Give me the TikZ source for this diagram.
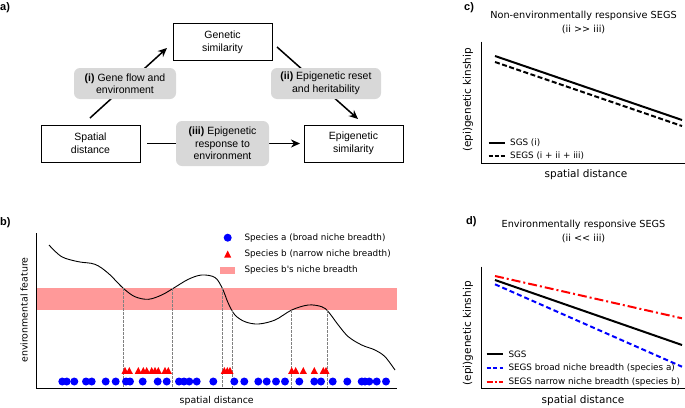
\documentclass[tikz,border=0pt]{standalone}
\usepackage{fontspec}
\setmainfont{Liberation Sans}
\newfontfamily\dvs{DejaVu Sans}
\newfontfamily\lib{Liberation Sans}
\usetikzlibrary{arrows.meta}
\definecolor{boxgray}{RGB}{216,216,216}
\definecolor{bandred}{RGB}{255,153,153}
\definecolor{mblue}{RGB}{0,0,255}
\definecolor{mred}{RGB}{255,0,0}
\begin{document}
\begin{tikzpicture}[x=1pt,y=-1pt,
  plainbox/.style={draw=black,line width=0.8pt,fill=white,minimum width=99pt,minimum height=37pt,inner sep=0pt,align=center,font=\lib\fontsize{10.5}{13.3}\selectfont},
  graybox/.style={fill=boxgray,rounded corners=6pt,inner sep=0pt,align=center,font=\lib\fontsize{10.5}{12.5}\selectfont},
  bigarrow/.style={line width=1.5pt,-{Stealth[length=9pt,width=8pt]}},
  panellabel/.style={font=\lib\bfseries\fontsize{11}{13}\selectfont,inner sep=0pt},
  legtext/.style={font=\dvs\fontsize{8.8}{10}\selectfont,anchor=west,inner sep=0pt},
  axlabel/.style={font=\dvs\fontsize{10.5}{12}\selectfont,inner sep=0pt},
  axlabelb/.style={font=\dvs\fontsize{9.4}{11}\selectfont,inner sep=0pt},
  titletext/.style={font=\dvs\fontsize{9.7}{14}\selectfont,inner sep=0pt,align=center},
  axisline/.style={line width=1.1pt},
  dropline/.style={gray,line width=0.5pt,dash pattern=on 2.5pt off 1.5pt},
  bdot/.style={fill=mblue},
  rtri/.style={fill=mred}
]
\useasboundingbox (0,0) rectangle (685,407);

%% ---------------- panel a ----------------
\node[panellabel,anchor=west] (la) at (0,8) {a)};
\node[plainbox] (gen) at (222.5,42) {Genetic\\similarity};
\node[plainbox] (spa) at (90.5,143.5) {Spatial\\distance};
\node[plainbox] (epi) at (353.5,143.5) {Epigenetic\\similarity};
\coordinate (i1) at (90,118);
\coordinate (i2) at (167,48);
\coordinate (ii1) at (277,47);
\coordinate (ii2) at (358,119);
\coordinate (iii1) at (147,143.5);
\coordinate (iii2) at (300,143.5);
\draw[bigarrow] (i1) -- (i2);
\draw[bigarrow] (ii1) -- (ii2);
\draw[bigarrow] (iii1) -- (iii2);
\node[graybox,minimum width=102pt,minimum height=31pt] (gi) at (125,83.5) {\textbf{(i)} Gene flow and\\environment};
\node[graybox,minimum width=110pt,minimum height=31pt] (gii) at (326,83.5) {\textbf{(ii)} Epigenetic reset\\and heritability};
\node[graybox,minimum width=93pt,minimum height=45pt] (giii) at (222.5,143.5) {\textbf{(iii)} Epigenetic\\response to\\environment};

%% ---------------- panel b ----------------
\node[panellabel,anchor=west] (lb) at (0,223) {b)};
\fill[bandred] (36,288.3) rectangle (397,310);
\draw[line width=0.9pt] plot[smooth,tension=0.55] coordinates {
 (49,245) (61.7,256.7) (78.3,261.7) (95,264.3) (108.3,273.3) (123.3,288.3)
 (135,296.7) (148.3,299.3) (161.7,295) (173.3,288.3) (188.3,279.3) (201.7,275)
 (215,277.5) (222.3,288.3) (228.3,303.3) (235,315) (245,321.7) (258.3,324)
 (275,320) (291.7,310) (308.3,305) (321.7,306.7) (328.3,311.7) (338.3,325)
 (348.3,336.7) (361.7,345) (375,350) (385,356.7) (395,370)};
\foreach \xx in {123.3,172.7,222.3} \draw[dropline] (\xx,288.3) -- (\xx,388);
\foreach \xx in {232.7,291.7,327.3} \draw[dropline] (\xx,310) -- (\xx,388);
\foreach \xx in {62.3,66.7,74.3,86,91.7,105.7,115.7,126,130,142.7,157.7,166.7,179,184,189.3,196.7,213.3,234.3,244.3,258.3,266.7,276,285,299.3,314.3,321,332.7,347.3,361.7,365,369.3,376.7,386}
  \fill[bdot] (\xx,381.5) circle (4pt);
\foreach \xx in {125,129.3,138.3,143.3,146.7,151.7,155,158.3,165,168.3,224.3,227.3,230,291.7,295.7,303.3,314.3,323.3,326}
  \fill[rtri] (\xx-3.5,373.8) -- (\xx+3.5,373.8) -- (\xx,367) -- cycle;
\draw[axisline,line width=0.9pt] (36,233) -- (36,388) -- (397,388);
% legend
\fill[bdot] (227.7,237.7) circle (4pt);
\fill[rtri] (224.2,257.5) -- (231.2,257.5) -- (227.7,250.5) -- cycle;
\fill[bandred] (220,266.7) rectangle (235,274);
\node[legtext] (lba) at (244.3,237.7) {Species a (broad niche breadth)};
\node[legtext] (lbb) at (244.3,254) {Species b (narrow niche breadth)};
\node[legtext] (lbc) at (244.3,270.3) {Species b's niche breadth};
\node[axlabelb,rotate=90] (yb) at (24,310) {environmental feature};
\node[axlabelb] (xb) at (216.7,401) {spatial distance};

%% ---------------- panel c ----------------
\node[panellabel,anchor=west] (lc) at (464,8) {c)};
\node[titletext] (tc) at (583.5,22) {Non-environmentally responsive SEGS\\(ii >{}> iii)};
\coordinate (c1a) at (495,56);
\coordinate (c1b) at (682,120);
\coordinate (c2a) at (495,62);
\coordinate (c2b) at (682,126);
\draw[line width=2pt] (c1a) -- (c1b);
\draw[line width=2pt,dash pattern=on 5pt off 2.5pt] (c2a) -- (c2b);
\draw[axisline] (481.7,41.7) -- (481.7,163.3) -- (685,163.3);
\coordinate (lc1a) at (488.5,142.7);
\coordinate (lc1b) at (505,142.7);
\coordinate (lc2a) at (488.5,155.7);
\coordinate (lc2b) at (505,155.7);
\draw[line width=2pt] (lc1a) -- (lc1b);
\draw[line width=2pt,dash pattern=on 4pt off 2pt] (lc2a) -- (lc2b);
\node[legtext] (lct1) at (510,142.7) {SGS (i)};
\node[legtext] (lct2) at (510,155.7) {SEGS (i + ii + iii)};
\node[axlabel,rotate=90] (yc) at (468,100) {(epi)genetic kinship};
\node[axlabel] (xc) at (586,174.5) {spatial distance};

%% ---------------- panel d ----------------
\node[panellabel,anchor=west] (ld) at (466,222) {d)};
\node[titletext] (td) at (583.5,231.3) {Environmentally responsive SEGS\\(ii <{}< iii)};
\coordinate (d1a) at (495,280);
\coordinate (d1b) at (682,345);
\coordinate (d2a) at (495,284.3);
\coordinate (d2b) at (682,366.7);
\coordinate (d3a) at (495,276);
\coordinate (d3b) at (682,318.3);
\draw[line width=2pt] (d1a) -- (d1b);
\draw[line width=2pt,mblue,dash pattern=on 5pt off 3pt] (d2a) -- (d2b);
\draw[line width=2pt,mred,dash pattern=on 9pt off 3pt on 2pt off 3pt] (d3a) -- (d3b);
\draw[axisline] (481.7,266.7) -- (481.7,388.3) -- (685,388.3);
\coordinate (ld1a) at (486.7,354.3);
\coordinate (ld1b) at (503.3,354.3);
\coordinate (ld2a) at (486.7,368.3);
\coordinate (ld2b) at (503.3,368.3);
\coordinate (ld3a) at (486.7,382.3);
\coordinate (ld3b) at (503.3,382.3);
\draw[line width=2pt] (ld1a) -- (ld1b);
\draw[line width=2pt,mblue,dash pattern=on 4pt off 2.5pt] (ld2a) -- (ld2b);
\draw[line width=2pt,mred,dash pattern=on 6pt off 2pt on 2pt off 2pt] (ld3a) -- (ld3b);
\node[legtext] (ldt1) at (508.3,354.3) {SGS};
\node[legtext] (ldt2) at (508.3,368.3) {SEGS broad niche breadth (species a)};
\node[legtext] (ldt3) at (508.3,382.3) {SEGS narrow niche breadth (species b)};
\node[axlabel,rotate=90] (yd) at (468,333.3) {(epi)genetic kinship};
\node[axlabel] (xd) at (583,401) {spatial distance};
\end{tikzpicture}
\end{document}
